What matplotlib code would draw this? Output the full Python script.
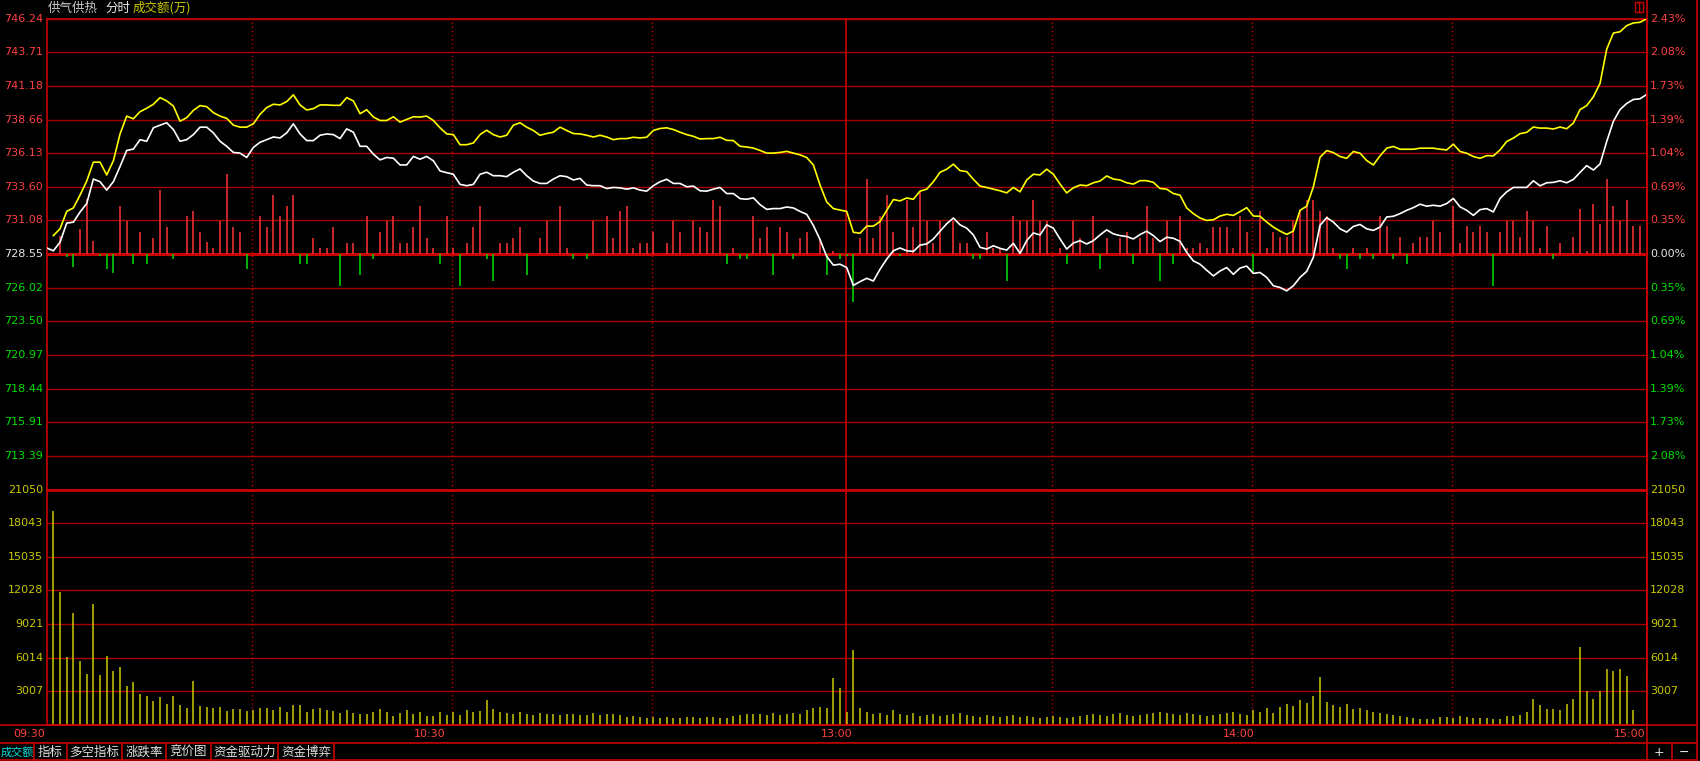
import matplotlib
matplotlib.use("Agg")
import matplotlib.pyplot as plt
import numpy as np
from matplotlib.transforms import blended_transform_factory
from matplotlib.patches import Rectangle

plt.rcParams['font.family'] = ['Noto Sans CJK SC', 'DejaVu Sans']

# ---- data (one value per minute, 09:30 .. 15:00, 241 points) ----
base_price = 728.55
price_ticks = [746.24, 743.71, 741.18, 738.66, 736.13, 733.60, 731.08, 728.55,
               726.02, 723.50, 720.97, 718.44, 715.91, 713.39]
price_bottom = 710.86
vol_ticks = [21050, 18043, 15035, 12028, 9021, 6014, 3007]
time_labels = ["09:30", "10:30", "13:00", "14:00", "15:00"]
time_label_min = [0, 60, 120, 180, 240]
grid_minutes = [30, 60, 90, 150, 180, 210]
tabs = ["成交额", "指标", "多空指标", "涨跌率", "竞价图", "资金驱动力", "资金博弈"]

white_line = [
    729.01, 728.80, 729.44, 730.88, 730.95, 731.71, 732.35, 734.19, 733.99, 733.36,
    733.99, 735.13, 736.34, 736.44, 737.15, 737.03, 738.04, 738.24, 738.42, 737.91,
    737.03, 737.15, 737.53, 738.09, 738.09, 737.66, 737.03, 736.65, 736.19, 736.14,
    735.81, 736.57, 736.95, 737.15, 737.35, 737.28, 737.66, 738.34, 737.58, 737.08,
    737.08, 737.48, 737.58, 737.53, 737.23, 737.96, 737.71, 736.65, 736.65, 736.06,
    735.63, 735.81, 735.76, 735.25, 735.25, 735.89, 735.68, 735.89, 735.56, 734.80,
    734.67, 734.55, 733.79, 733.69, 733.79, 734.55, 734.70, 734.44, 734.44, 734.37,
    734.70, 734.95, 734.44, 734.04, 733.86, 733.86, 734.19, 734.44, 734.37, 734.12,
    734.24, 733.74, 733.69, 733.69, 733.48, 733.56, 733.53, 733.43, 733.53, 733.36,
    733.28, 733.69, 733.99, 734.17, 733.86, 733.86, 733.61, 733.66, 733.31, 733.28,
    733.43, 733.56, 733.10, 733.10, 732.72, 732.67, 732.78, 732.27, 731.91, 731.97,
    731.97, 732.09, 732.02, 731.76, 731.54, 730.70, 729.64, 728.37, 727.72, 727.79,
    727.54, 726.20, 726.48, 726.73, 726.53, 727.41, 728.17, 728.80, 729.01, 728.80,
    728.75, 729.23, 729.31, 729.69, 730.27, 730.83, 731.26, 730.75, 730.50, 729.99,
    729.06, 728.93, 729.18, 728.98, 728.85, 729.36, 728.60, 729.56, 730.14, 729.99,
    730.75, 730.50, 729.69, 728.93, 729.38, 729.56, 729.31, 729.56, 729.99, 730.37,
    730.07, 729.94, 729.87, 729.69, 730.02, 730.27, 729.94, 729.49, 729.82, 729.74,
    729.51, 728.68, 728.04, 727.79, 727.34, 726.91, 727.28, 727.54, 727.03, 727.50,
    727.65, 727.10, 727.17, 726.80, 726.17, 726.04, 725.79, 726.17, 726.80, 727.25,
    728.31, 730.71, 731.29, 730.96, 730.45, 730.20, 730.63, 730.78, 730.45, 730.33,
    730.58, 731.34, 731.39, 731.59, 731.84, 732.04, 732.30, 732.15, 732.22, 732.15,
    732.35, 732.73, 732.10, 731.84, 731.46, 731.89, 731.97, 731.72, 732.73, 733.23,
    733.56, 733.56, 733.56, 734.06, 733.68, 733.91, 733.94, 734.06, 733.91, 734.16,
    734.69, 735.20, 734.87, 735.32, 737.01, 738.53, 739.41, 739.87, 740.17, 740.22,
    740.55,
]

yellow_line = [
    np.nan, 729.94, 730.45, 731.76, 732.02, 732.98, 734.04, 735.46, 735.46, 734.50,
    735.56, 737.58, 738.92, 738.72, 739.25, 739.51, 739.81, 740.31, 740.06, 739.68,
    738.54, 738.80, 739.35, 739.71, 739.63, 739.18, 738.92, 738.75, 738.24, 738.09,
    738.09, 738.34, 739.05, 739.56, 739.81, 739.76, 740.01, 740.52, 739.76, 739.38,
    739.48, 739.76, 739.76, 739.73, 739.73, 740.31, 740.06, 739.10, 739.40, 738.85,
    738.59, 738.59, 738.87, 738.47, 738.67, 738.87, 738.85, 738.92, 738.59, 738.04,
    737.58, 737.53, 736.77, 736.77, 736.90, 737.53, 737.86, 737.53, 737.35, 737.48,
    738.24, 738.42, 738.09, 737.84, 737.48, 737.61, 737.71, 738.09, 737.84, 737.61,
    737.58, 737.48, 737.35, 737.48, 737.35, 737.15, 737.23, 737.23, 737.33, 737.28,
    737.33, 737.84, 737.99, 738.04, 737.91, 737.71, 737.53, 737.40, 737.20, 737.23,
    737.23, 737.33, 737.10, 737.08, 736.65, 736.60, 736.52, 736.34, 736.14, 736.14,
    736.19, 736.27, 736.14, 736.01, 735.81, 735.25, 733.74, 732.47, 731.97, 731.86,
    731.76, 730.19, 730.12, 730.65, 730.65, 731.00, 731.84, 732.65, 732.55, 732.77,
    732.67, 733.28, 733.43, 733.99, 734.70, 734.93, 735.31, 734.82, 734.75, 734.17,
    733.66, 733.56, 733.43, 733.31, 733.15, 733.56, 733.23, 734.12, 734.55, 734.50,
    734.93, 734.55, 733.81, 733.15, 733.53, 733.74, 733.69, 733.91, 734.04, 734.42,
    734.19, 734.12, 733.91, 733.81, 734.07, 734.07, 733.94, 733.48, 733.43, 733.10,
    732.98, 732.02, 731.59, 731.26, 731.08, 731.13, 731.41, 731.54, 731.46, 731.74,
    732.04, 731.41, 731.39, 730.96, 730.58, 730.28, 730.03, 730.28, 731.84, 732.15,
    733.61, 735.83, 736.33, 736.18, 735.88, 735.75, 736.26, 736.13, 735.58, 735.25,
    735.93, 736.51, 736.64, 736.43, 736.43, 736.43, 736.51, 736.51, 736.51, 736.43,
    736.38, 736.81, 736.26, 736.13, 735.88, 735.75, 735.95, 735.93, 736.38, 737.01,
    737.27, 737.60, 737.70, 738.10, 738.02, 738.02, 737.95, 738.10, 737.97, 738.40,
    739.41, 739.71, 740.37, 741.38, 743.95, 745.16, 745.26, 745.72, 745.92, 745.97,
    746.24,
]

# red / green strength bars, in price-axis units above/below the base price
strength = [
    0, 0, 1.39, -0.20, -0.94, 1.85, 4.17, 1.01, -0.18, -1.14,
    -1.39, 3.59, 2.45, -0.78, 1.64, -0.78, 1.24, 4.81, 2.07, -0.38,
    0, 2.83, 3.21, 1.64, 0.89, 0.48, 2.45, 6.02, 2.07, 1.64,
    -1.14, 0, 2.83, 2.07, 4.43, 2.83, 3.59, 4.43, -0.78, -0.78,
    1.24, 0.48, 0.48, 2.07, -2.40, 0.86, 0.86, -1.54, 2.83, -0.38,
    1.64, 2.45, 2.83, 0.86, 0.86, 2.07, 3.59, 1.24, 0.48, -0.78,
    2.83, 0.48, -2.40, 0.86, 2.07, 3.59, -0.38, -1.99, 0.86, 0.86,
    1.24, 2.07, -1.54, 0, 1.24, 2.45, 0, 3.59, 0.48, -0.38,
    0, -0.38, 2.45, 0, 2.83, 1.24, 3.21, 3.59, 0.48, 0.86,
    0.86, 1.64, 0, 0.86, 2.45, 1.64, 0, 2.45, 2.07, 1.64,
    4.05, 3.59, -0.78, 0.48, -0.38, -0.38, 2.83, 1.24, 2.07, -1.54,
    2.07, 1.64, -0.38, 1.24, 1.64, 0, 1.14, -1.54, 0.25, -0.38,
    -0.18, -3.57, 1.24, 5.64, 1.24, 2.83, 4.43, 1.64, -0.18, 4.05,
    2.07, 4.73, 2.45, 0.86, 2.45, 0, 2.45, 0.86, 0.86, -0.38,
    -0.38, 1.64, 0.48, 0.48, -1.99, 2.83, 2.45, 2.45, 4.05, 2.45,
    2.45, 0, 0.48, -0.78, 2.45, 1.24, 0, 2.83, -1.14, 1.24,
    0, 1.24, 1.64, -0.78, 1.24, 3.59, 1.24, -1.99, 2.45, -0.78,
    2.83, 0.48, 0.48, 0.86, 0.48, 2.07, 2.07, 2.07, 0.48, 2.83,
    1.64, -1.37, 3.22, 0.47, 1.65, 1.25, 1.25, 2.46, 3.22, 4.05,
    4.05, 3.22, 2.84, 0.47, -0.39, -1.14, 0.47, -0.39, 0.47, -0.39,
    2.84, 2.08, -0.39, 1.25, -0.74, 0.87, 1.25, 1.25, 2.46, 1.65,
    0, 3.60, 0.87, 2.08, 1.65, 2.08, 1.65, -2.40, 1.65, 2.46,
    2.46, 1.25, 3.22, 2.46, 0.47, 2.08, -0.39, 0.87, 0, 1.25,
    3.42, 0.26, 3.80, 2.23, 5.61, 3.60, 2.46, 4.05, 2.08, 2.08,
    0,
]

# turnover per minute (万)
volume = [
    0, 19100, 11900, 6100, 10000, 5700, 4600, 10800, 4500, 6200,
    4800, 5200, 3500, 3800, 2800, 2600, 2150, 2500, 1880, 2600,
    1790, 1520, 3930, 1700, 1610, 1520, 1610, 1250, 1430, 1430,
    1250, 1370, 1520, 1520, 1340, 1610, 1160, 1790, 1790, 1160,
    1430, 1520, 1340, 1250, 1070, 1340, 1070, 980, 980, 1160,
    1430, 1160, 800, 1070, 1340, 980, 1160, 800, 800, 1160,
    890, 1160, 890, 1340, 1160, 1250, 2240, 1430, 1160, 1100,
    1000, 1200, 1000, 900, 1100, 1000, 950, 900, 1000, 1000,
    900, 850, 1100, 900, 950, 1000, 900, 700, 800, 700,
    650, 700, 600, 700, 650, 650, 700, 700, 600, 700,
    700, 600, 650, 800, 900, 1000, 1000, 950, 900, 1100,
    900, 1000, 1100, 1000, 1300, 1500, 1600, 1500, 4200, 3300,
    1200, 6700, 1500, 1200, 1000, 1100, 900, 1300, 1000, 900,
    1100, 800, 900, 1000, 800, 900, 1000, 1100, 900, 800,
    700, 900, 800, 700, 800, 900, 700, 800, 700, 600,
    700, 800, 700, 600, 700, 800, 900, 1000, 900, 800,
    1000, 1100, 900, 800, 900, 1000, 1100, 1200, 1100, 1000,
    900, 1100, 1000, 900, 800, 900, 1000, 1100, 1200, 1000,
    900, 1300, 1200, 1500, 1100, 1600, 1900, 1700, 2200, 2000,
    2600, 4300, 2100, 1800, 1600, 1900, 1400, 1500, 1300, 1200,
    1100, 1000, 900, 800, 715, 626, 536, 536, 536, 715,
    715, 626, 805, 715, 626, 626, 626, 536, 536, 805,
    805, 894, 1160, 2320, 1790, 1430, 1430, 1340, 1880, 2320,
    7000, 3040, 2320, 3040, 5050, 4800, 4980, 4360, 1340, 0,
    5200,
]

minutes = np.arange(len(white_line))
strength = np.array(strength)
volume = np.array(volume)

# ---- colours ----
BG = "black"
GRID = "#A80000"
AXIS = "#C80000"
RED_TXT = "#FF4040"
GREEN_TXT = "#00E000"
VOL_YEL = "#C8C800"

W, H = 1700, 761
fig = plt.figure(figsize=(W / 100, H / 100), dpi=100, facecolor=BG)


def box(x0, y0, x1, y1):
    return [x0 / W, 1 - y1 / H, (x1 - x0) / W, (y1 - y0) / H]


X0, X1 = 46.7, 1646.7
ax_p = fig.add_axes(box(X0, 18.7, X1, 489.5))
ax_v = fig.add_axes(box(X0, 489.5, X1, 725))
for ax in (ax_p, ax_v):
    ax.set_facecolor(BG)
    ax.set_xticks([])
    ax.set_yticks([])
    ax.set_xlim(0, 240)
    for s in ax.spines.values():
        s.set_color(AXIS)
        s.set_linewidth(1.2)
    for m in grid_minutes:
        ax.axvline(m + 0.85, color=AXIS, lw=1, ls=(0, (1, 2)))
    ax.axvline(119.9, color=AXIS, lw=1.2)

# price panel
ax_p.set_ylim(price_bottom, price_ticks[0])
for p in price_ticks:
    if p == base_price:
        ax_p.axhline(p, color=AXIS, lw=2.2, zorder=2)
    else:
        ax_p.axhline(p, color=GRID, lw=1)

up = strength > 0
dn = strength < 0
ax_p.vlines(minutes[up], base_price, base_price + strength[up], color="#FF3333", lw=1.1, zorder=3)
ax_p.vlines(minutes[dn], base_price, base_price + strength[dn], color="#00E000", lw=1.1, zorder=3)
ax_p.plot(minutes, yellow_line, color="#FFFF00", lw=1.2, zorder=4)
ax_p.plot(minutes, white_line, color="white", lw=1.2, zorder=5)

# volume panel
ax_v.set_ylim(0, vol_ticks[0])
for v in vol_ticks:
    ax_v.axhline(v, color=AXIS if v == vol_ticks[0] else GRID, lw=2 if v == vol_ticks[0] else 1)
ax_v.vlines(minutes[volume > 0], 0, volume[volume > 0], color=VOL_YEL, lw=1.1, zorder=3)

# axis labels
tp = blended_transform_factory(fig.transFigure, ax_p.transData)
for p in price_ticks:
    pct = abs(p / base_price - 1) * 100
    if p > base_price:
        c = RED_TXT
    elif p < base_price:
        c = GREEN_TXT
    else:
        c = "#E8E8E8"
    ax_p.text(43 / W, p, f"{p:.2f}", transform=tp, ha="right", va="center",
              color=c, fontsize=8, family="DejaVu Sans")
    ax_p.text(1650 / W, p, f"{pct:.2f}%", transform=tp, ha="left", va="center",
              color=c, fontsize=8, family="DejaVu Sans")

tv = blended_transform_factory(fig.transFigure, ax_v.transData)
for v in vol_ticks:
    ax_v.text(43 / W, v, str(v), transform=tv, ha="right", va="center",
              color=VOL_YEL, fontsize=8, family="DejaVu Sans")
    ax_v.text(1650 / W, v, str(v), transform=tv, ha="left", va="center",
              color=VOL_YEL, fontsize=8, family="DejaVu Sans")

# frame lines / rows in pixel space
ax_fg = fig.add_axes([0, 0, 1, 1], zorder=10)
ax_fg.set_xlim(0, W)
ax_fg.set_ylim(H, 0)
ax_fg.axis("off")
ax_fg.patch.set_alpha(0)
for y in (725, 743, 760):
    ax_fg.plot([0, 1697], [y, y], color=AXIS, lw=1.2)
ax_fg.plot([X1, X1], [0, 761], color=AXIS, lw=1.2)
ax_fg.plot([1697, 1697], [0, 761], color=AXIS, lw=1.2)
ax_fg.plot([1671.7, 1671.7], [743, 761], color=AXIS, lw=1.2)
for xs in (34.3, 66.7, 122.3, 166, 210.7, 278.3, 334.3):
    ax_fg.plot([xs, xs], [743, 761], color=AXIS, lw=1.2)

# small icon top-right
ax_fg.add_patch(Rectangle((1635, 2), 8, 10, fill=False, ec=AXIS, lw=1))
ax_fg.plot([1639, 1639], [2, 12], color=AXIS, lw=1)

# title
ax_fg.text(48, 8, "供气供热", color="#C8C8C8", fontsize=9, va="center", ha="left")
ax_fg.text(105, 8, "分时", color="#E8E8E8", fontsize=9, va="center", ha="left")
ax_fg.text(133, 8, "成交额(万)", color=VOL_YEL, fontsize=9, va="center", ha="left")

# time labels (right edge near the minute position)
label_shift = [-1.7, -1.7, 6, 8, -1.7]
for lab, m, d in zip(time_labels, time_label_min, label_shift):
    px = X0 + m * (X1 - X0) / 240 + d
    ax_fg.text(px, 734, lab, color=RED_TXT, fontsize=8, ha="right", va="center",
               family="DejaVu Sans")

# tabs
tab_centers = [17, 50.5, 94.5, 144, 188, 244.5, 306.3]
for k, (t, cx) in enumerate(zip(tabs, tab_centers)):
    if k == 0:
        ax_fg.text(1, 752, t, color="#00E5E5", fontsize=8, ha="left", va="center")
    else:
        ax_fg.text(cx, 752, t, color="#E0E0E0", fontsize=9, ha="center", va="center")
ax_fg.text(1659, 752, "+", color="#E0E0E0", fontsize=9, ha="center", va="center", family="DejaVu Sans")
ax_fg.text(1684, 752, "−", color="#E0E0E0", fontsize=9, ha="center", va="center", family="DejaVu Sans")

fig.savefig("out.png", dpi=100, facecolor=BG)
